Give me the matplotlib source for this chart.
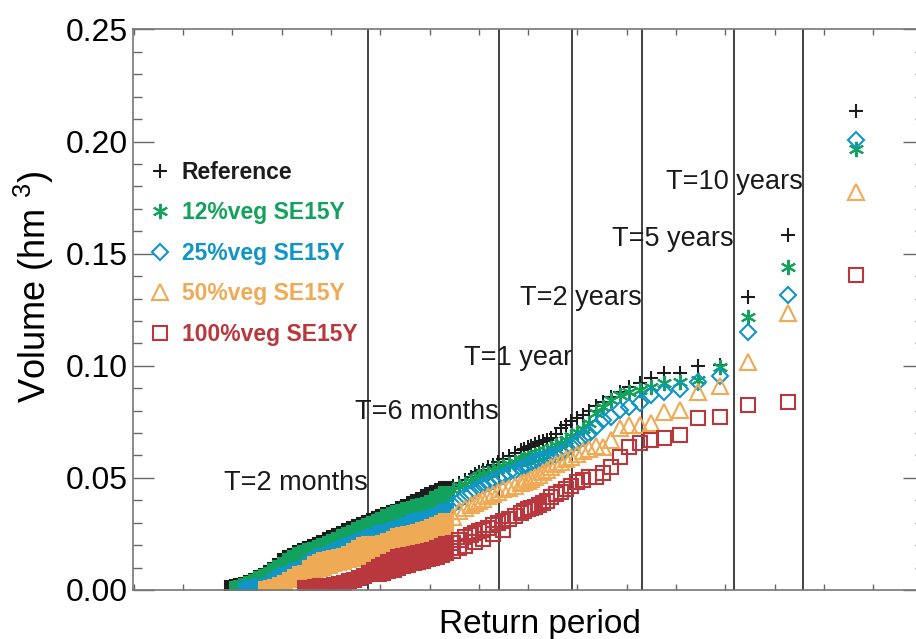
import numpy as np
import matplotlib
matplotlib.use("Agg")
import matplotlib.pyplot as plt
from matplotlib.ticker import FixedLocator, MultipleLocator, NullFormatter, FormatStrFormatter

plt.rcParams['font.family'] = ['Liberation Sans', 'DejaVu Sans']
plt.rcParams['mathtext.fontset'] = 'custom'
plt.rcParams['mathtext.rm'] = 'Liberation Sans'
plt.rcParams['mathtext.it'] = 'Liberation Sans:italic'

nan = np.nan

# Weibull-type plotting position: T = span / rank  (years)
span_years = 16.9

# largest events, one marker each
ranks_top = [1, 2, 3, 4, 5, 6, 7, 8, 9, 10, 11, 12, 13]
ref_top = [0.2138, 0.1583, 0.1305, 0.1004, 0.0999, 0.0966, 0.0966, 0.0944, 0.0922, 0.0907, 0.0885, 0.0862, 0.0840]
v12_top = [0.1966, 0.1439, 0.1216, 0.0993, 0.0937, 0.0929, 0.0922, 0.0907, 0.0892, 0.0885, 0.0870, 0.0847, 0.0818]
v25_top = [0.2007, 0.1316, 0.1149, 0.0954, 0.0929, 0.0895, 0.0885, 0.0870, 0.0833, 0.0818, 0.0803, 0.0773, 0.0758]
v50_top = [0.1777, 0.1234, 0.1018, 0.0910, 0.0885, 0.0803, 0.0795, 0.0743, 0.0736, 0.0736, 0.0721, 0.0669, 0.0639]
v100_top = [0.1405, 0.0840, 0.0825, 0.0772, 0.0767, 0.0691, 0.0677, 0.0669, 0.0654, 0.0639, 0.0595, 0.0550, 0.0520]

# intermediate events
ranks_mid = [14, 15, 16, 17, 18, 19, 20, 21, 22, 23, 24, 25, 26, 27, 28, 29, 30,
             32, 34, 36, 38, 40, 42, 44, 46, 48, 50, 53, 56, 60]
ref_mid = [0.0821, 0.0800, 0.0782, 0.0767, 0.0752, 0.0738, 0.0721, 0.0696, 0.0676, 0.0669, 0.0664, 0.0658,
           0.0649, 0.0642, 0.0637, 0.0631, 0.0624,
           0.0611, 0.0598, 0.0584, 0.0573, 0.0558, 0.0547, 0.0537, 0.0528, 0.0517, 0.0506, 0.0491, 0.0477, 0.0464]
v12_mid = [0.0789, 0.0745, 0.0720, 0.0703, 0.0686, 0.0670, 0.0655, 0.0645, 0.0633, 0.0620, 0.0612, 0.0606,
           0.0601, 0.0595, 0.0590, 0.0585, 0.0580,
           0.0570, 0.0561, 0.0553, 0.0544, 0.0533, 0.0524, 0.0517, 0.0508, 0.0497, 0.0486, 0.0473, 0.0462, 0.0446]
v25_mid = [0.0725, 0.0696, 0.0677, 0.0659, 0.0642, 0.0626, 0.0611, 0.0604, 0.0597, 0.0590, 0.0583, 0.0578,
           0.0572, 0.0565, 0.0555, 0.0549, 0.0542,
           0.0530, 0.0520, 0.0509, 0.0498, 0.0486, 0.0476, 0.0467, 0.0455, 0.0444, 0.0434, 0.0417, 0.0399, 0.0377]
v50_mid = [0.0642, 0.0630, 0.0619, 0.0607, 0.0593, 0.0582, 0.0573, 0.0561, 0.0549, 0.0537, 0.0526, 0.0515,
           0.0504, 0.0495, 0.0488, 0.0482, 0.0475,
           0.0466, 0.0457, 0.0450, 0.0439, 0.0428, 0.0417, 0.0407, 0.0397, 0.0388, 0.0379, 0.0366, 0.0352, 0.0326]
v100_mid = [0.0505, 0.0503, 0.0492, 0.0482, 0.0464, 0.0450, 0.0439, 0.0426, 0.0413, 0.0399, 0.0388, 0.0379,
            0.0372, 0.0365, 0.0359, 0.0352, 0.0342,
            0.0330, 0.0318, 0.0308, 0.0298, 0.0289, 0.0276, 0.0268, 0.0261, 0.0254, 0.0246, 0.0236, 0.0225, 0.0210]
# second (lower) row of 100% points in the same range
ranks_mid_low = [36, 40, 44, 48, 53, 56, 60]
v100_mid_low = [0.0268, 0.0250, 0.0227, 0.0214, 0.0196, 0.0188, 0.0176]

# small, frequent events (dense cloud): upper edge, plus lower edge where visible
ranks_low = [64, 67, 70, 74, 77, 81, 85, 89, 94, 99, 104, 109, 115, 121, 127, 133, 140, 147, 155, 163, 171,
             180, 189, 199, 209, 220, 231, 243, 255, 268, 282, 296, 311, 327, 344, 362, 380, 400, 420, 442,
             464, 488, 513, 536, 560]
ref_low = [0.0450, 0.0442, 0.0433, 0.0422, 0.0413, 0.0403, 0.0393, 0.0384, 0.0372, 0.0360, 0.0350, 0.0343,
           0.0333, 0.0325, 0.0317, 0.0309, 0.0301, 0.0291, 0.0281, 0.0271, 0.0261, 0.0251, 0.0241, 0.0231,
           0.0221, 0.0211, 0.0201, 0.0192, 0.0184, 0.0174, 0.0163, 0.0153, 0.0141, 0.0128, 0.0109, 0.0091,
           0.0075, 0.0062, 0.0054, 0.0042, 0.0030, 0.0022, 0.0018, 0.0012, 0.0008]
v12_low = [0.0428, 0.0416, 0.0404, 0.0389, 0.0381, 0.0374, 0.0368, 0.0362, 0.0355, 0.0348, 0.0342, 0.0334,
           0.0324, 0.0314, 0.0305, 0.0295, 0.0285, 0.0276, 0.0267, 0.0256, 0.0246, 0.0236, 0.0225, 0.0214,
           0.0204, 0.0196, 0.0188, 0.0180, 0.0173, 0.0165, 0.0156, 0.0143, 0.0128, 0.0113, 0.0099, 0.0083,
           0.0068, 0.0058, 0.0048, 0.0037, 0.0027, 0.0018, 0.0009, 0.0004, nan]
v25_low = [0.0352, 0.0338, 0.0328, 0.0320, 0.0316, 0.0312, 0.0307, 0.0303, 0.0291, 0.0280, 0.0272, 0.0266,
           0.0260, 0.0255, 0.0249, 0.0241, 0.0232, 0.0224, 0.0215, 0.0206, 0.0197, 0.0187, 0.0177, 0.0166,
           0.0156, 0.0153, 0.0149, 0.0134, 0.0117, 0.0100, 0.0091, 0.0083, 0.0072, 0.0065, 0.0055, 0.0040,
           0.0023, 0.0019, 0.0016, 0.0011, 0.0007, 0.0001, nan, nan, nan]
v50_low = [0.0308, 0.0297, 0.0288, 0.0279, 0.0274, 0.0266, 0.0259, 0.0252, 0.0248, 0.0245, 0.0239, 0.0229,
           0.0219, 0.0210, 0.0207, 0.0207, 0.0207, 0.0199, 0.0186, 0.0174, 0.0161, 0.0153, 0.0148, 0.0143,
           0.0138, 0.0133, 0.0124, 0.0115, 0.0096, 0.0078, 0.0070, 0.0058, 0.0043, 0.0029, 0.0021, 0.0014,
           0.0007, 0.0003, nan, nan, nan, nan, nan, nan, nan]
v50_low_b = [0.0268, 0.0259, 0.0250, 0.0240, 0.0232, 0.0223, 0.0216, 0.0210, 0.0203, 0.0196, 0.0190, 0.0184,
             0.0178, 0.0173, 0.0167, 0.0162, 0.0156, 0.0151, 0.0145, 0.0140, 0.0134, 0.0127, 0.0120, 0.0114,
             0.0107, 0.0099, 0.0094, 0.0085, 0.0076, 0.0069, 0.0062, nan, nan, nan, nan, nan,
             nan, nan, nan, nan, nan, nan, nan, nan, nan]
v100_low = [0.0203, 0.0195, 0.0187, 0.0179, 0.0175, 0.0171, 0.0167, 0.0162, 0.0155, 0.0150, 0.0145, 0.0135,
            0.0124, 0.0112, 0.0102, 0.0091, 0.0076, 0.0062, 0.0054, 0.0045, 0.0038, 0.0033, 0.0028, 0.0024,
            0.0020, 0.0018, 0.0016, 0.0013, 0.0011, 0.0009, nan, nan, nan, nan, nan, nan,
            nan, nan, nan, nan, nan, nan, nan, nan, nan]
v100_low_b = [0.0165, 0.0154, 0.0147, 0.0141, 0.0136, 0.0131, 0.0125, 0.0119, 0.0112, 0.0105, 0.0098, 0.0091,
              0.0085, 0.0078, 0.0071, nan, nan, nan, nan, nan, nan, nan, nan, nan,
              nan, nan, nan, nan, nan, nan, nan, nan, nan, nan, nan, nan,
              nan, nan, nan, nan, nan, nan, nan, nan, nan]

# return-period guide lines
t_lines = [0.119, 0.449, 0.946, 1.923, 4.889, 9.845]
t_names = ["T=2 months", "T=6 months", "T=1 year", "T=2 years", "T=5 years", "T=10 years"]
t_name_y = [0.0477, 0.0794, 0.1035, 0.1303, 0.1566, 0.1820]

labels = ["Reference", "12%veg SE15Y", "25%veg SE15Y", "50%veg SE15Y", "100%veg SE15Y"]
colors = ["#1c1c1c", "#13a25e", "#0f95c6", "#eeaa55", "#b9383d"]
markers = ["+", (6, 2, 0), "D", "^", "s"]
msizes = [10, 11, 8, 11, 10]


def ret_period(ranks):
    return span_years / np.asarray(ranks, dtype=float)


fig = plt.figure(figsize=(9.16, 6.39), dpi=100)
ax = fig.add_axes([0.1452, 0.0767, 0.8635, 0.8772])

for t in t_lines:
    ax.axvline(t, color="#333333", lw=1.3, zorder=1)
for t, name, y in zip(t_lines, t_names, t_name_y):
    ax.text(t, y, name, ha="right", va="center", fontsize=19.5, color="#1a1a1a", zorder=6)

tops = [ref_top, v12_top, v25_top, v50_top, v100_top]
mids = [ref_mid, v12_mid, v25_mid, v50_mid, v100_mid]
lows = [ref_low, v12_low, v25_low, v50_low, v100_low]
extra_low = {3: v50_low_b, 4: v100_low_b}

handles = []
for i in range(5):
    c = colors[i]
    z = 2 + i * 0.1
    # dense cloud of small events
    ax.plot(ret_period(ranks_low), lows[i], ls="none", marker="s", ms=10, mfc=c, mec=c, mew=1.5, zorder=z)
    if i in extra_low:
        ax.plot(ret_period(ranks_low), extra_low[i], ls="none", marker="s", ms=10, mfc=c, mec=c, mew=1.5,
                zorder=z)
    ax.plot(ret_period(ranks_mid), mids[i], ls="none", marker=markers[i], ms=msizes[i], mfc="none", mec=c,
            mew=1.5, zorder=z)
    if i == 4:
        ax.plot(ret_period(ranks_mid_low), v100_mid_low, ls="none", marker="s", ms=10, mfc="none", mec=c,
                mew=1.5, zorder=z)
    h, = ax.plot(ret_period(ranks_top), tops[i], ls="none", marker=markers[i], ms=msizes[i], mfc="none", mec=c,
                 mew=1.5, zorder=z, label=labels[i])
    handles.append(h)

ax.set_xscale("log")
ax.set_xlim(0.01102, 33.6)
ax.set_ylim(0, 0.25)
ax.xaxis.set_major_locator(FixedLocator(np.exp(np.arange(-4.5, 3.6, 0.5))))
ax.xaxis.set_minor_locator(FixedLocator([]))
ax.xaxis.set_major_formatter(NullFormatter())
ax.xaxis.set_minor_formatter(NullFormatter())
ax.yaxis.set_major_locator(MultipleLocator(0.05))
ax.yaxis.set_minor_locator(MultipleLocator(0.01))
ax.yaxis.set_major_formatter(FormatStrFormatter("%.2f"))

ax.tick_params(axis="x", which="both", direction="in", top=True, bottom=True, length=4.3, width=1,
               color="#666666")
ax.tick_params(axis="y", which="major", direction="in", left=True, right=True, length=15, width=1,
               color="#666666", labelsize=23, pad=3.5)
ax.tick_params(axis="y", which="minor", direction="in", left=True, right=True, length=6.5, width=1,
               color="#666666")
for s in ax.spines.values():
    s.set_color("#777777")
    s.set_linewidth(1.2)

ax.set_ylabel("Volume (hm $^{3}$)", fontsize=26)
ax.yaxis.set_label_coords(-0.097, 0.54)
ax.set_xlabel("Return period", fontsize=24)
ax.xaxis.set_label_coords(0.5145, -0.034)

leg = ax.legend(handles=handles, loc="upper left", bbox_to_anchor=(0.0183, 0.7653), frameon=False,
                prop={"weight": "bold", "size": 16.5}, handlelength=1.05, handletextpad=0.45,
                labelspacing=0.76, borderpad=0, borderaxespad=0)
for txt, c in zip(leg.get_texts(), colors):
    txt.set_color(c)

fig.savefig("out.png", dpi=100)
